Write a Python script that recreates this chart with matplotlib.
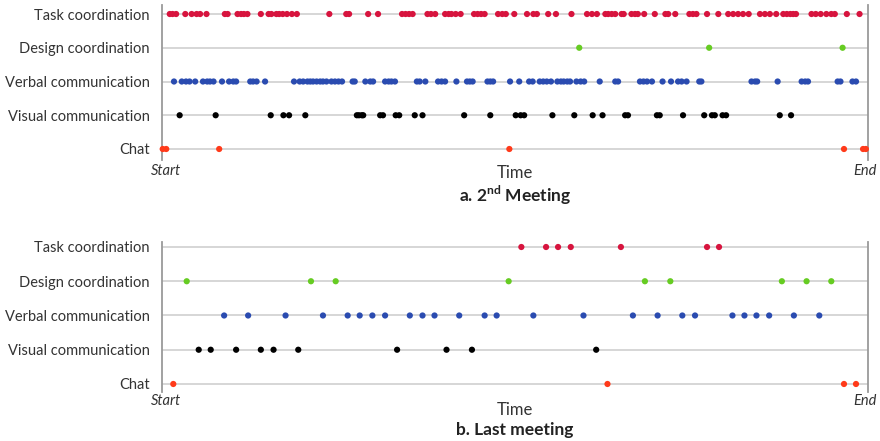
import matplotlib
matplotlib.use("Agg")
import matplotlib.pyplot as plt

plt.rcParams['font.family'] = ['Lato', 'DejaVu Sans']
plt.rcParams['mathtext.fontset'] = 'custom'
plt.rcParams['mathtext.rm'] = 'Lato'
plt.rcParams['mathtext.bf'] = 'Lato:bold'

# Activity rows (top to bottom) and their marker colours
categories = ["Task coordination", "Design coordination", "Verbal communication",
              "Visual communication", "Chat"]
colors = ["#d7143e", "#66cc22", "#2a4bb0", "#000000", "#ff3a1a"]

# Event times, in percent of meeting duration -- 2nd meeting
m2_task = [1.1, 1.5, 2.0, 3.3, 4.2, 4.9, 5.4, 6.3, 8.9, 9.3, 10.7, 11.2, 11.6, 12.1,
           14.0, 15.1, 15.5, 16.2, 16.6, 17.1, 17.7, 18.4, 19.1, 23.7, 26.1, 26.5,
           29.2, 30.6, 34.0, 34.5, 35.0, 35.5, 37.6, 38.1, 38.7, 40.1, 40.6, 41.0,
           41.6, 42.3, 44.2, 44.7, 45.2, 45.7, 47.6, 48.2, 48.7, 49.9, 51.7, 52.6,
           53.1, 54.7, 55.8, 58.0, 60.2, 60.9, 61.6, 62.8, 63.2, 63.7, 64.2, 65.1,
           65.4, 66.5, 67.0, 67.4, 68.3, 69.8, 71.3, 71.7, 72.7, 74.7, 75.2, 75.7,
           77.2, 78.8, 80.2, 80.9, 81.6, 82.3, 83.1, 84.7, 85.4, 86.1, 87.0, 88.0,
           88.5, 89.0, 89.4, 89.8, 92.0, 92.6, 93.3, 94.1, 94.8, 95.3, 97.0, 98.8]
m2_design = [59.1, 77.5, 96.4]
m2_verbal = [1.7, 2.8, 3.4, 3.9, 4.7, 5.8, 6.4, 6.8, 7.3, 8.5, 9.5, 10.1, 10.5, 12.5,
             12.9, 13.4, 14.6, 18.7, 19.5, 20.0, 20.6, 21.0, 21.4, 21.9, 22.4, 22.8,
             23.3, 24.0, 24.5, 25.0, 25.5, 27.0, 27.3, 28.8, 29.5, 29.9, 31.6, 32.1,
             32.5, 33.0, 36.1, 36.5, 37.3, 39.1, 39.6, 40.1, 41.7, 43.2, 43.6, 44.0,
             46.1, 46.5, 46.9, 49.3, 50.6, 52.0, 52.5, 53.5, 54.0, 54.5, 55.1, 56.0,
             56.5, 56.9, 57.4, 57.8, 58.7, 59.3, 59.8, 62.0, 64.2, 64.6, 67.7, 68.2,
             68.7, 69.4, 70.9, 72.1, 73.1, 73.6, 74.3, 76.1, 76.4, 83.5, 84.0, 84.3,
             87.2, 90.6, 91.1, 91.5, 95.7, 96.1, 97.8, 98.3]
m2_visual = [2.5, 7.6, 15.4, 17.2, 18.0, 20.3, 27.6, 27.9, 28.3, 28.5, 30.9, 31.3,
             33.1, 33.6, 35.8, 36.9, 42.8, 46.5, 50.1, 50.8, 51.3, 55.3, 58.4, 61.0,
             62.4, 65.6, 66.0, 70.1, 70.5, 73.8, 76.8, 77.9, 78.3, 79.4, 79.9, 87.5,
             89.1]
m2_chat = [0.1, 0.6, 8.1, 49.2, 96.6, 99.3, 99.7]

# Event times, in percent of meeting duration -- last meeting
last_task = [50.9, 54.4, 56.1, 57.9, 65.0, 77.2, 78.9]
last_design = [3.5, 21.1, 24.6, 49.1, 68.4, 72.0, 87.8, 91.3, 94.8]
last_verbal = [8.8, 12.2, 17.5, 22.8, 26.3, 28.0, 29.8, 31.6, 35.1, 36.9, 38.6, 42.1,
               45.7, 47.4, 52.6, 59.7, 66.7, 70.2, 73.7, 75.5, 80.8, 82.5, 84.2, 86.0,
               89.5, 93.1]
last_visual = [5.2, 6.9, 10.5, 14.0, 15.8, 19.3, 33.3, 40.3, 43.9, 61.5]
last_chat = [1.6, 63.1, 96.6, 98.3]

W, H = 880, 441
fig = plt.figure(figsize=(W / 100, H / 100), dpi=100)

label_color = "#333333"


def px_axes(left, top, right, bottom):
    return fig.add_axes([left / W, 1 - bottom / H, (right - left) / W, (bottom - top) / H])


def draw_panel(ax, series, ylim):
    n = len(categories)
    for i, (vals, col) in enumerate(zip(series, colors)):
        y = n - 1 - i
        ax.axhline(y, color="#cfcfcf", lw=1.2, zorder=1)
        ax.scatter(vals, [y] * len(vals), s=20, color=col, edgecolors="none",
                   zorder=3, clip_on=False)
    ax.set_xlim(0, 100)
    ax.set_ylim(*ylim)
    ax.set_yticks(range(n))
    ax.set_yticklabels(categories[::-1], fontsize=10.5, color=label_color)
    ax.tick_params(axis="y", length=0, pad=9)
    ax.set_xticks([])
    for s in ("top", "bottom"):
        ax.spines[s].set_visible(False)
    for s in ("left", "right"):
        ax.spines[s].set_color("#9a9a9a")
        ax.spines[s].set_linewidth(1.3)


ax1 = px_axes(162, 5, 868, 160)
draw_panel(ax1, [m2_task, m2_design, m2_verbal, m2_visual, m2_chat], (-0.326, 4.267))

ax2 = px_axes(162, 242, 868, 392)
draw_panel(ax2, [last_task, last_design, last_verbal, last_visual, last_chat], (-0.234, 4.146))


def ftext(x, y, s, **kw):
    fig.text(x / W, 1 - y / H, s, va="center", **kw)


# Panel annotations
ftext(151, 171, "Start", ha="left", fontsize=10.5, style="italic", color=label_color)
ftext(853, 171, "End", ha="left", fontsize=10.5, style="italic", color=label_color)
ftext(515, 173, "Time", ha="center", fontsize=12, color=label_color)
ftext(515, 195, r"a. 2$^{\mathbf{nd}}$ Meeting", ha="center", fontsize=12.5,
      fontweight="bold", color="#222222")

ftext(151, 401, "Start", ha="left", fontsize=10.5, style="italic", color=label_color)
ftext(853, 401, "End", ha="left", fontsize=10.5, style="italic", color=label_color)
ftext(515, 410, "Time", ha="center", fontsize=12, color=label_color)
ftext(515, 430, "b. Last meeting", ha="center", fontsize=12.5,
      fontweight="bold", color="#222222")

fig.savefig("out.png", dpi=100)
